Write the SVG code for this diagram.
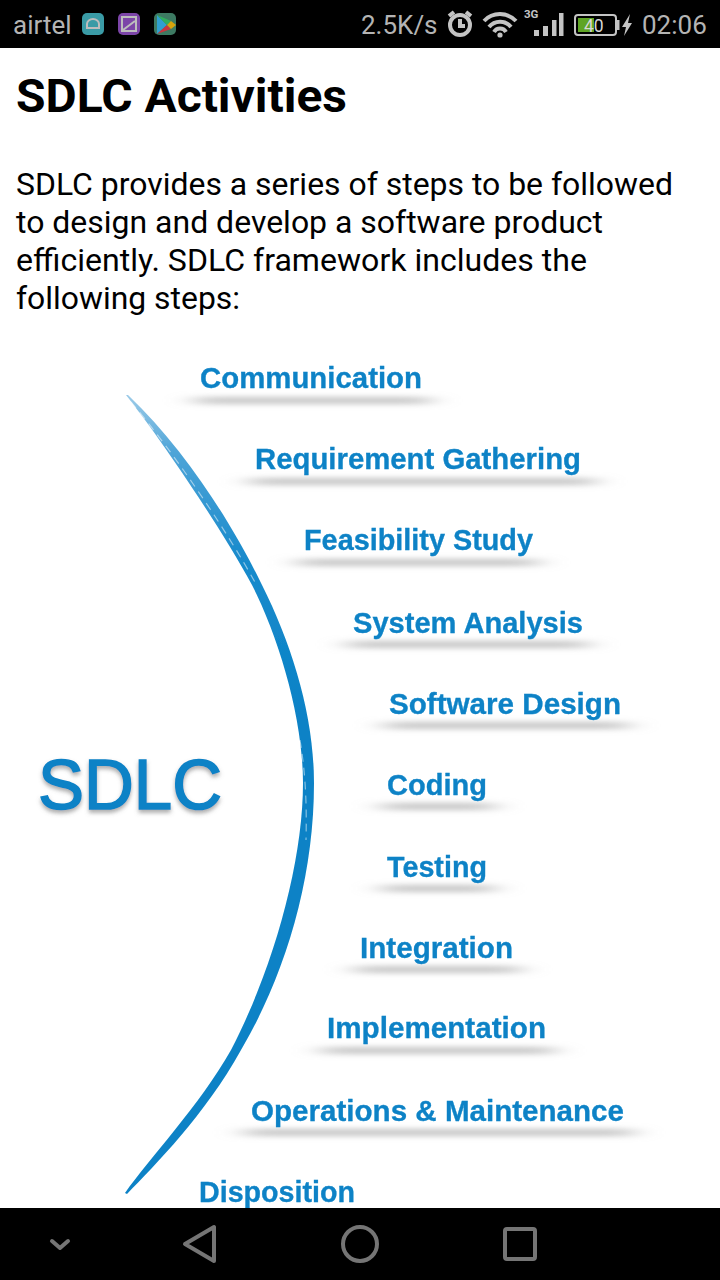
<svg xmlns="http://www.w3.org/2000/svg" width="720" height="1280" viewBox="0 0 720 1280">
<style>
.st{font-family:Roboto,"Liberation Sans",sans-serif;fill:#b4b4b4;font-size:26px}
.body{font-family:Roboto,"Liberation Sans",sans-serif;fill:#000;font-size:31px}
.lb{font-family:"Liberation Sans",Arial,sans-serif;font-weight:bold;fill:#0a82c6;font-size:29px;stroke:#0a82c6;stroke-width:.3}
.sh{fill:#b0b0b0}
.nav{fill:none;stroke:#757575;stroke-width:4;stroke-linejoin:round;stroke-linecap:round}
.ic{fill:none;stroke:#bdbdbd;stroke-width:2}
.w{fill:none;stroke:#c4c4c4;stroke-width:4}
.bar{fill:#c4c4c4}
</style>
<defs>
<filter id="b1" x="-30%" y="-500%" width="160%" height="1100%"><feGaussianBlur stdDeviation="14 3"/></filter>
<filter id="b2" x="-10%" y="-10%" width="120%" height="120%"><feGaussianBlur stdDeviation="0.7"/></filter>
<filter id="t" x="-5%" y="-20%" width="110%" height="140%"><feGaussianBlur stdDeviation="0.45"/></filter>
<filter id="s" x="-10%" y="-20%" width="120%" height="150%"><feDropShadow dx="0" dy="3" stdDeviation="2" flood-color="#666" flood-opacity=".55"/></filter>
<linearGradient id="g" gradientUnits="userSpaceOnUse" x1="0" y1="395" x2="0" y2="1195">
<stop offset="0" stop-color="#9ccbe8"/><stop offset=".07" stop-color="#4fa5d8"/><stop offset=".2" stop-color="#1a8bcc"/><stop offset=".4" stop-color="#0a82c6"/><stop offset="1" stop-color="#0a82c6"/>
</linearGradient>
</defs>
<rect width="720" height="1280" fill="#fff"/>
<g id="status-bar">
<rect width="720" height="48" fill="#000"/>
<text class="st" x="13" y="34">airtel</text>
<rect x="82" y="13" width="22" height="22" rx="5" fill="#3a9ba6"/>
<path d="M87 28v-4a6 5 0 0 1 12 0v4z" class="ic" stroke-width="1.200"/>
<rect x="118" y="13" width="22" height="22" rx="5" fill="#7c45a8"/>
<rect x="122" y="17" width="14" height="14" class="ic" stroke-width="1.200"/>
<path d="M123 30l12-9" class="ic" stroke-width="1"/>
<rect x="154" y="13" width="22" height="22" rx="5" fill="#3d7a62"/>
<path d="M157 15l10 10-10 9z" fill="#2f9fd0"/>
<path d="M157 15l10 10 4-4z" fill="#2fae5e"/>
<path d="M157 34l10-9 4 4z" fill="#c9363f"/>
<path d="M171 21l5 4-5 4-4-4z" fill="#d6a30c"/>
<text class="st" x="361" y="34">2.5K/s</text>
<circle cx="460" cy="25" r="10" class="w" stroke-width="2.200"/>
<path d="M460 19v7h5" class="w" stroke-width="2"/>
<path d="M449 16l5-4M471 16l-5-4" class="w" stroke-width="2.400"/>
<path d="M484 21a22 22 0 0 1 32 0M489 27a14 14 0 0 1 22 0M494 32a7 7 0 0 1 12 0" class="w" stroke-width="3.400"/>
<circle cx="500" cy="35" r="2.600" fill="#c4c4c4"/>
<text x="524" y="18" font-family="Roboto,'Liberation Sans',sans-serif" font-size="11.500" font-weight="bold" fill="#c4c4c4">3G</text>
<rect class="bar" x="534" y="30" width="5" height="6"/>
<rect class="bar" x="543" y="26" width="5" height="10"/>
<rect class="bar" x="552" y="20" width="4.500" height="16"/>
<rect class="bar" x="559" y="13" width="4.500" height="23"/>
<rect x="575" y="15" width="41" height="20" rx="3" fill="none" stroke="#c4c4c4" stroke-width="2"/>
<rect x="578" y="18" width="16" height="14" fill="#5fa525"/>
<rect x="617" y="20" width="2.500" height="10" fill="#c4c4c4"/>
<text x="584" y="32" font-family="Roboto,'Liberation Sans',sans-serif" font-size="17.500" fill="#d8d8d8">40</text>
<path d="M630 14l-8 13h4l-2 9 8-13h-4z" fill="#c4c4c4"/>
<text class="st" x="642" y="34">02:06</text>
</g>
<g id="heading">
<text x="16" y="112" font-family="Roboto,'Liberation Sans',sans-serif" font-weight="bold" font-size="46" fill="#000" textLength="331" lengthAdjust="spacingAndGlyphs">SDLC Activities</text>
<text class="body" x="16" y="195" textLength="657" lengthAdjust="spacingAndGlyphs">SDLC provides a series of steps to be followed</text>
<text class="body" x="16" y="233" textLength="587" lengthAdjust="spacingAndGlyphs">to design and develop a software product</text>
<text class="body" x="16" y="271" textLength="571" lengthAdjust="spacingAndGlyphs">efficiently. SDLC framework includes the</text>
<text class="body" x="16" y="309" textLength="224" lengthAdjust="spacingAndGlyphs">following steps:</text>
</g>
<g id="arc" filter="url(#b2)">
<path fill="url(#g)" d="M126 395C166 446 222 530 252 585C280 640 303 720 303 783C303 860 275 965 231 1050C200 1105 148 1160 125 1193L127 1194C155 1165 205 1115 241 1050C285 975 314 880 314 783C314 715 292 645 262 585C234 527 186 450 128 395Z"/>
<path d="M131 402C172 450 228 532 257 586M300 740C305 770 307 800 306 840M170 1133C150 1153 140 1165 134 1175" fill="none" stroke="#fff" stroke-width="1.200" stroke-dasharray="8 6" opacity=".5"/>
</g>
<g id="sdlc">
<text x="38" y="809" font-family="Liberation Sans,Arial,sans-serif" font-size="70" fill="#0a82c6" stroke="#0a82c6" stroke-width="1.600" textLength="184" lengthAdjust="spacingAndGlyphs" filter="url(#s)">SDLC</text>
</g>
<g id="step-communication">
<rect class="sh" x="195" y="398" width="235" height="5" filter="url(#b1)"/>
<text class="lb" x="200" y="388" textLength="222" lengthAdjust="spacingAndGlyphs" filter="url(#t)">Communication</text>
</g>
<g id="step-requirement">
<rect class="sh" x="250" y="479" width="345" height="5" filter="url(#b1)"/>
<text class="lb" x="255" y="469" textLength="326" lengthAdjust="spacingAndGlyphs" filter="url(#t)">Requirement Gathering</text>
</g>
<g id="step-feasibility">
<rect class="sh" x="298" y="560" width="240" height="5" filter="url(#b1)"/>
<text class="lb" x="304" y="550" textLength="229" lengthAdjust="spacingAndGlyphs" filter="url(#t)">Feasibility Study</text>
</g>
<g id="step-analysis">
<rect class="sh" x="348" y="642" width="240" height="5" filter="url(#b1)"/>
<text class="lb" x="353" y="633" textLength="230" lengthAdjust="spacingAndGlyphs" filter="url(#t)">System Analysis</text>
</g>
<g id="step-design">
<rect class="sh" x="385" y="723" width="243" height="5" filter="url(#b1)"/>
<text class="lb" x="389" y="714" textLength="232" lengthAdjust="spacingAndGlyphs" filter="url(#t)">Software Design</text>
</g>
<g id="step-coding">
<rect class="sh" x="382" y="804" width="112" height="5" filter="url(#b1)"/>
<text class="lb" x="387" y="795" textLength="100" lengthAdjust="spacingAndGlyphs" filter="url(#t)">Coding</text>
</g>
<g id="step-testing">
<rect class="sh" x="382" y="886" width="112" height="5" filter="url(#b1)"/>
<text class="lb" x="387" y="877" textLength="100" lengthAdjust="spacingAndGlyphs" filter="url(#t)">Testing</text>
</g>
<g id="step-integration">
<rect class="sh" x="355" y="967" width="165" height="5" filter="url(#b1)"/>
<text class="lb" x="360" y="958" textLength="153" lengthAdjust="spacingAndGlyphs" filter="url(#t)">Integration</text>
</g>
<g id="step-implementation">
<rect class="sh" x="322" y="1048" width="232" height="5" filter="url(#b1)"/>
<text class="lb" x="327" y="1038" textLength="219" lengthAdjust="spacingAndGlyphs" filter="url(#t)">Implementation</text>
</g>
<g id="step-operations">
<rect class="sh" x="245" y="1130" width="388" height="5" filter="url(#b1)"/>
<text class="lb" x="251" y="1121" textLength="373" lengthAdjust="spacingAndGlyphs" filter="url(#t)">Operations &amp; Maintenance</text>
</g>
<g id="step-disposition">
<text class="lb" x="199" y="1202" textLength="156" lengthAdjust="spacingAndGlyphs" filter="url(#t)">Disposition</text>
</g>
<g id="nav-bar">
<rect y="1208" width="720" height="72" fill="#000"/>
<path d="M52 1241l8 7 8-7" class="nav" stroke-width="3"/>
<path d="M214 1227v34l-29-17z" class="nav"/>
<circle cx="360" cy="1244" r="17" class="nav"/>
<rect x="505" y="1229" width="30" height="30" rx="2" class="nav"/>
</g>
</svg>
